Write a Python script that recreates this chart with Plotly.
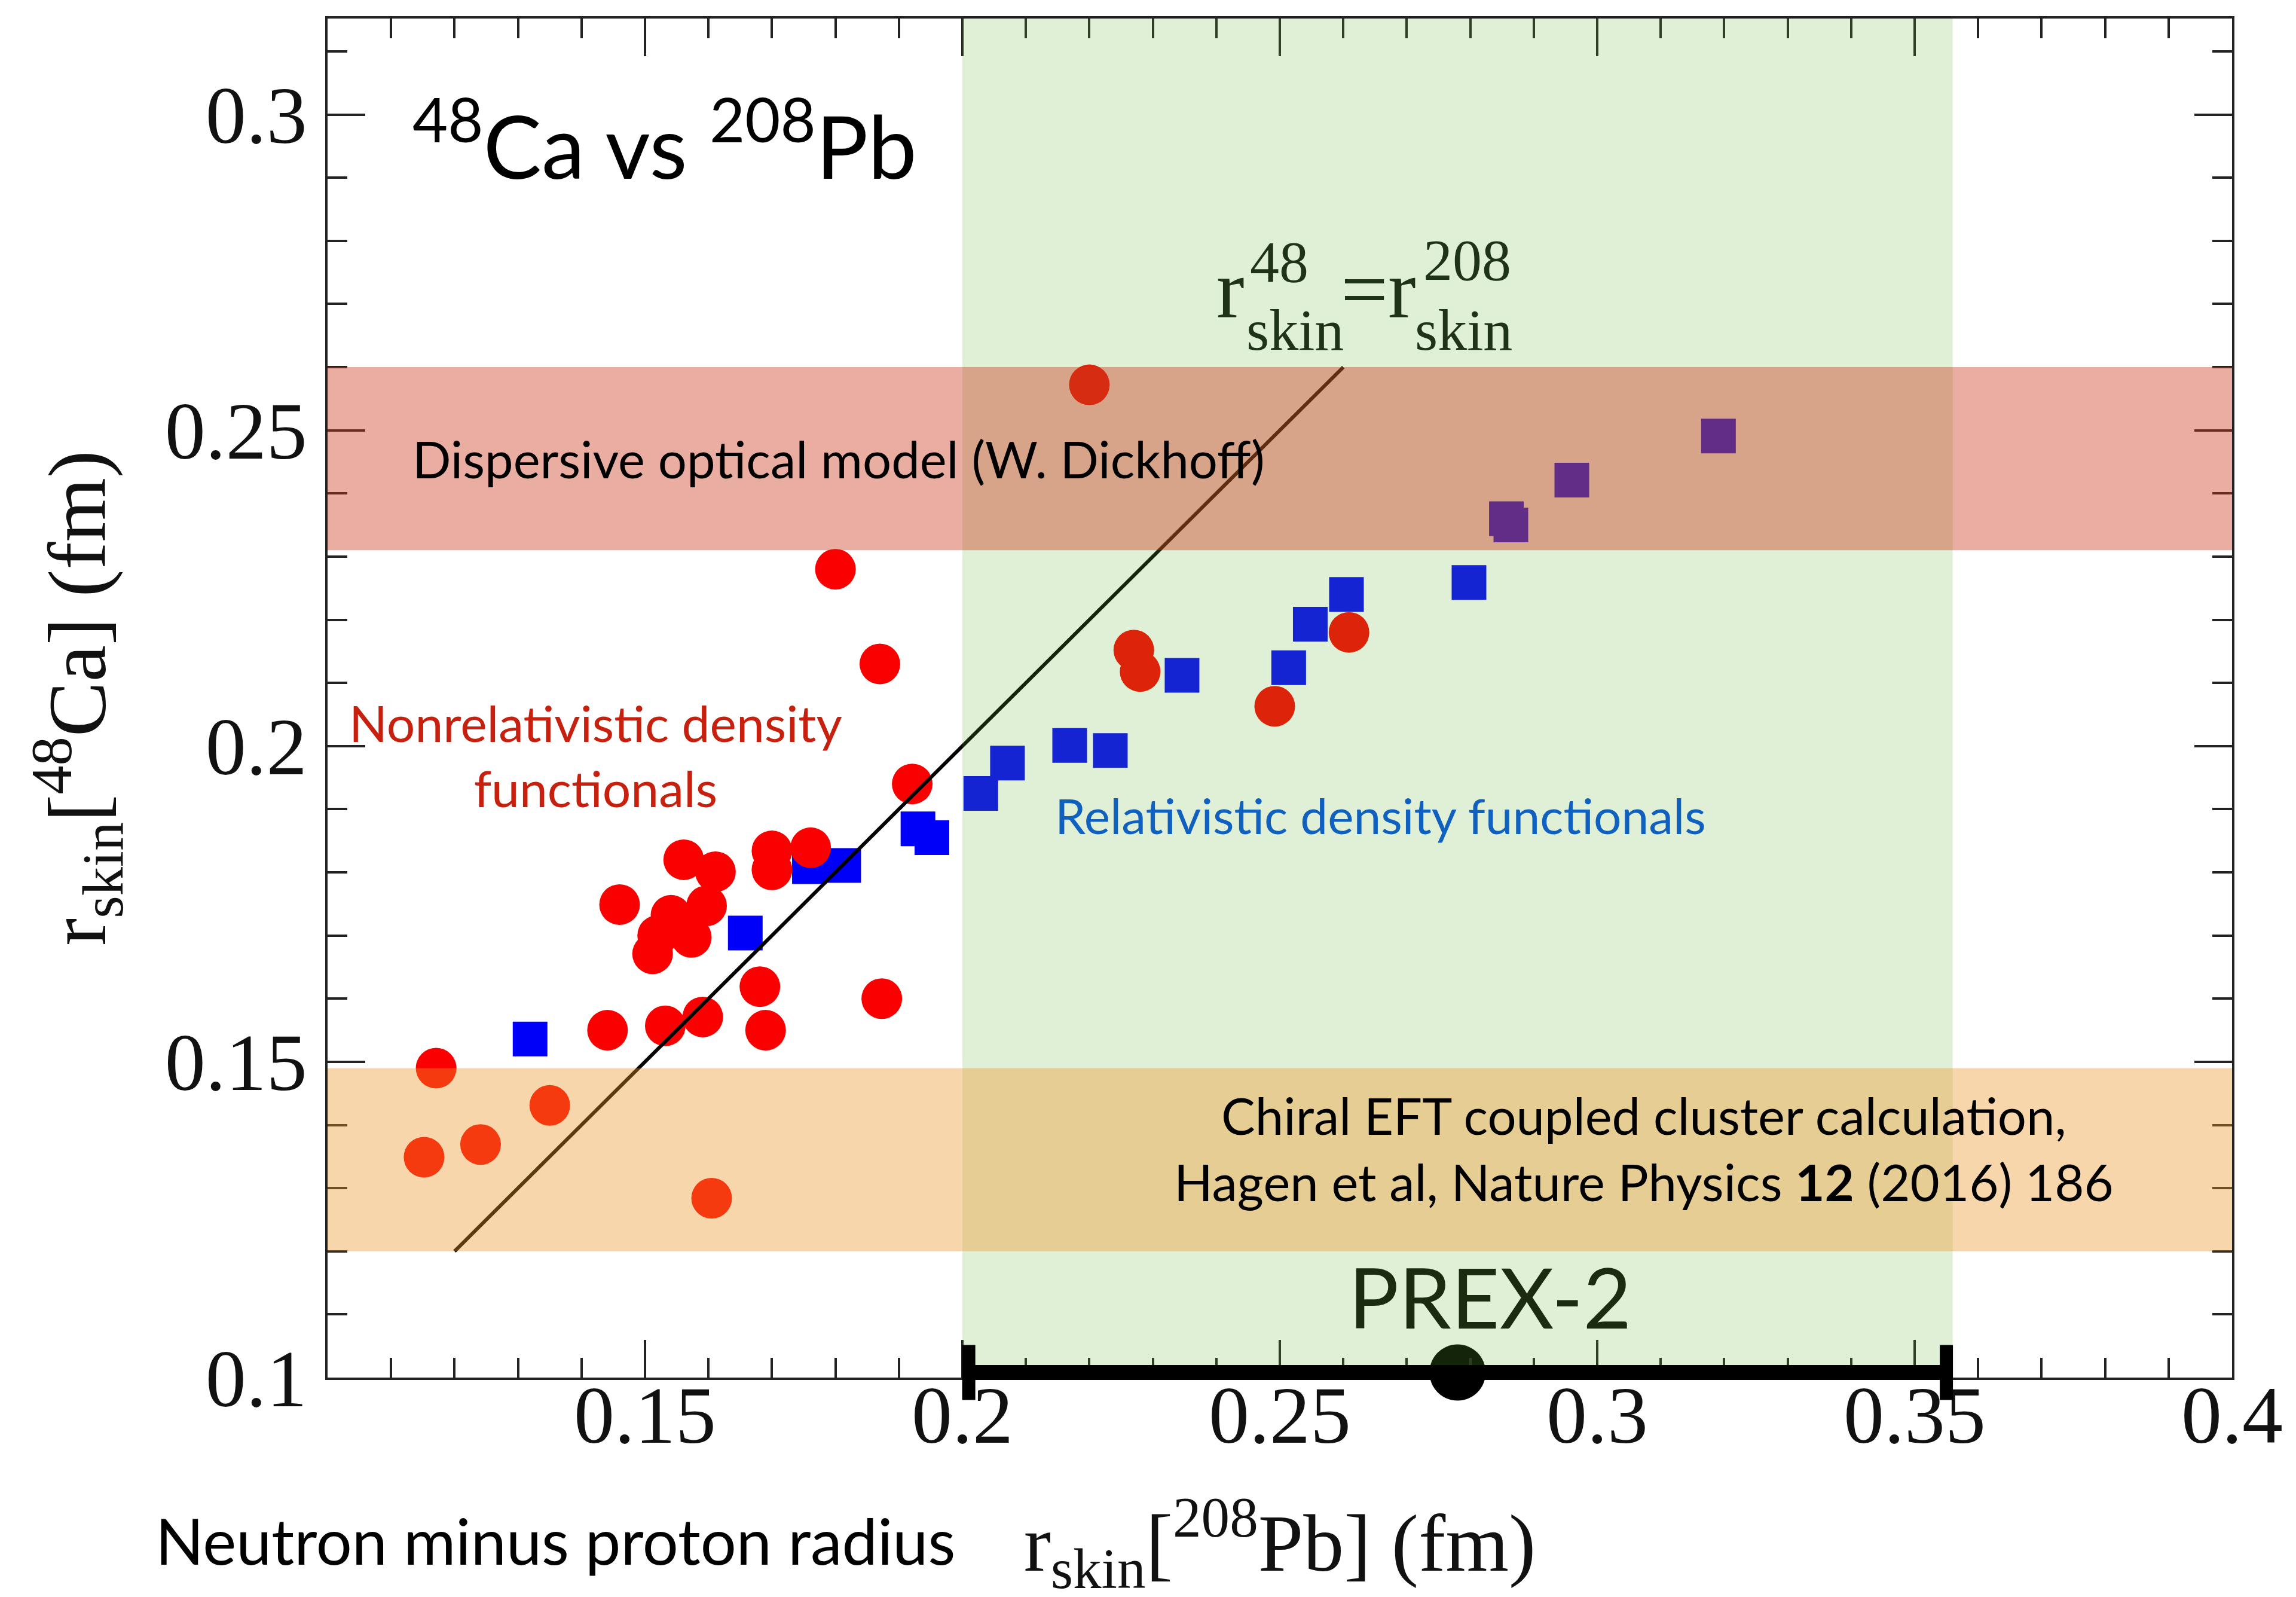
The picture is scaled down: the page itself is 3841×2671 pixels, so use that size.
import plotly.graph_objects as go

# ---------------- data ----------------
# Nonrelativistic density functionals (red circles): r_skin(208Pb), r_skin(48Ca)
nonrel_x = [0.1561, 0.1611, 0.1700, 0.1700, 0.1761, 0.1460, 0.1597, 0.1541,
            0.1573, 0.1520, 0.1512, 0.1681, 0.1873, 0.1441, 0.1532, 0.1591,
            0.1690, 0.1171, 0.1350, 0.1241, 0.1152, 0.1605, 0.1800, 0.1870,
            0.1921, 0.2200, 0.2270, 0.2280, 0.2492, 0.2609]
nonrel_y = [0.1820, 0.1801, 0.1834, 0.1804, 0.1839, 0.1749, 0.1747, 0.1732,
            0.1697, 0.1700, 0.1671, 0.1619, 0.1600, 0.1550, 0.1557, 0.1571,
            0.1550, 0.1490, 0.1431, 0.1369, 0.1349, 0.1284, 0.2280, 0.2130,
            0.1940, 0.2572, 0.2152, 0.2118, 0.2063, 0.2180]

# Relativistic density functionals (blue squares)
rel_x = [0.1319, 0.1658, 0.1759, 0.1813, 0.1930, 0.1952, 0.2029, 0.2071,
         0.2169, 0.2233, 0.2346, 0.2514, 0.2548, 0.2605, 0.2798, 0.2857,
         0.2864, 0.2960, 0.3191]
rel_y = [0.1536, 0.1704, 0.1809, 0.1811, 0.1869, 0.1855, 0.1925, 0.1973,
         0.2001, 0.1993, 0.2112, 0.2124, 0.2193, 0.2240, 0.2259, 0.2360,
         0.2350, 0.2421, 0.2491]

# r_skin(48) = r_skin(208) reference line
equal_line = [0.12, 0.26]

# PREX-2 measurement
prex_x = 0.278
prex_y = 0.1008
prex_err = 0.077

# Bands
prex_band_x = [0.2, 0.356]          # PREX-2 range (green)
dom_band_y = [0.231, 0.260]         # Dispersive optical model (red)
chiral_band_y = [0.120, 0.149]      # Chiral EFT coupled cluster (orange)

# Axes
x_range = [0.1, 0.4]
y_range = [0.1, 0.3152]
x_tickvals = [0.15, 0.2, 0.25, 0.3, 0.35, 0.4]
x_ticktext = ["0.15", "0.2", "0.25", "0.3", "0.35", "0.4"]
y_tickvals = [0.1, 0.15, 0.2, 0.25, 0.3]
y_ticktext = ["0.1", "0.15", "0.2", "0.25", "0.3"]

# ---------------- figure ----------------
W, H = 3841, 2671
L, R, T, B = 540, 3726, 23, 2296
SERIF = "Liberation Serif"
SANS = "Lato"
AXC = "#222222"

fig = go.Figure()

fig.add_trace(go.Scatter(
    x=rel_x, y=rel_y, mode="markers", name="Relativistic",
    marker=dict(symbol="square", size=58, color="#0000fa", line=dict(width=0)),
    showlegend=False))
fig.add_trace(go.Scatter(
    x=nonrel_x, y=nonrel_y, mode="markers", name="Nonrelativistic",
    marker=dict(symbol="circle", size=68, color="#fa0000", line=dict(width=0)),
    showlegend=False))
fig.add_trace(go.Scatter(
    x=equal_line, y=equal_line, mode="lines", name="equal",
    line=dict(color="black", width=6), showlegend=False))
fig.add_trace(go.Scatter(
    x=[prex_x], y=[prex_y], mode="markers", name="PREX-2",
    marker=dict(symbol="circle", size=94, color="black"),
    cliponaxis=False, showlegend=False))

# translucent bands drawn above the data
fig.add_shape(type="rect", xref="x", yref="paper", x0=prex_band_x[0], x1=prex_band_x[1],
              y0=0, y1=1, fillcolor="rgba(100,180,50,0.2)", line=dict(width=0), layer="above")
fig.add_shape(type="rect", xref="paper", yref="y", x0=0, x1=1,
              y0=chiral_band_y[0], y1=chiral_band_y[1],
              fillcolor="rgba(238,149,41,0.39)", line=dict(width=0), layer="above")
fig.add_shape(type="rect", xref="paper", yref="y", x0=0, x1=1,
              y0=dom_band_y[0], y1=dom_band_y[1],
              fillcolor="rgba(205,60,30,0.42)", line=dict(width=0), layer="above")

# PREX-2 error bar (black, on top, not clipped at the bottom axis)
prex_lo, prex_hi = prex_x - prex_err, prex_x + prex_err
prex_yp = (prex_y - y_range[0]) / (y_range[1] - y_range[0])
fig.add_shape(type="line", xref="x", yref="paper", x0=prex_lo, x1=prex_hi,
              y0=prex_yp, y1=prex_yp, line=dict(color="black", width=25), layer="above")
for xc in (prex_lo, prex_hi):
    fig.add_shape(type="line", xref="x", yref="paper", ysizemode="pixel",
                  yanchor=prex_yp, x0=xc, x1=xc, y0=-46, y1=46,
                  line=dict(color="black", width=22), layer="above")


def P(xp, yp):
    return (xp - L) / (R - L), (B - yp) / (B - T)


def ann(text, xp, yp, size, color, family, xanchor="left", align="left"):
    x, y = P(xp, yp)
    fig.add_annotation(text=text, x=x, y=y, xref="paper", yref="paper",
                       xanchor=xanchor, yanchor="middle", showarrow=False,
                       align=align, font=dict(size=size, color=color, family=family))


ann("<sup>48</sup>Ca vs <sup>208</sup>Pb", 680, 225, 146, "black", SANS)
ann("Dispersive optical model (W. Dickhoff)", 680, 759, 85, "black", SANS)
ann("Nonrelativistic density<br>functionals", 988, 1255, 84, "#c8200e", SANS,
    xanchor="center", align="center")
ann("Relativistic density functionals", 1755, 1355, 82, "#1060c0", SANS)
ann("Chiral EFT coupled cluster calculation,<br>Hagen et al, Nature Physics <b>12</b> (2016) 186",
    2742, 1912, 85, "black", SANS, xanchor="center", align="center")
ann("PREX-2", 2246, 2160, 140, "#1c2a10", SANS)

FC = "#1f3319"
ann("r", 2025, 476, 140, FC, SERIF)
ann("48", 2081, 430, 98, FC, SERIF)
ann("skin", 2075, 544, 98, FC, SERIF)
ann("=r", 2233, 476, 140, FC, SERIF)
ann("208", 2371, 427, 98, FC, SERIF)
ann("skin", 2357, 544, 98, FC, SERIF)

ann("Neutron minus proton radius", 250, 2568, 106, "black", SANS)

axis_common = dict(
    showline=True, linewidth=4, linecolor=AXC, mirror="ticks",
    ticks="inside", ticklen=63, tickwidth=3.5, tickcolor=AXC,
    showgrid=False, zeroline=False,
    tickfont=dict(family=SERIF, size=136, color="#111111"),
    minor=dict(ticks="inside", ticklen=33, tickwidth=3.5, tickcolor=AXC,
               dtick=0.01, tick0=0.1, showgrid=False),
)

fig.update_xaxes(range=x_range, tickvals=x_tickvals, ticktext=x_ticktext,
                 ticklabelstandoff=-58,
                 title=dict(text="r<sub>skin</sub>[<sup>208</sup>Pb] (fm)",
                            font=dict(family=SERIF, size=136, color="#111111"),
                            standoff=92),
                 **axis_common)
fig.update_yaxes(range=y_range, tickvals=y_tickvals, ticktext=y_ticktext,
                 ticklabelstandoff=3,
                 title=dict(text="r<sub>skin</sub>[<sup>48</sup>Ca] (fm)",
                            font=dict(family=SERIF, size=138, color="#111111"),
                            standoff=53),
                 **axis_common)

fig.update_layout(
    width=W, height=H,
    margin=dict(l=L, r=W - R, t=T, b=H - B, autoexpand=False),
    paper_bgcolor="white", plot_bgcolor="white",
    showlegend=False,
)

fig.write_html("out.html")
